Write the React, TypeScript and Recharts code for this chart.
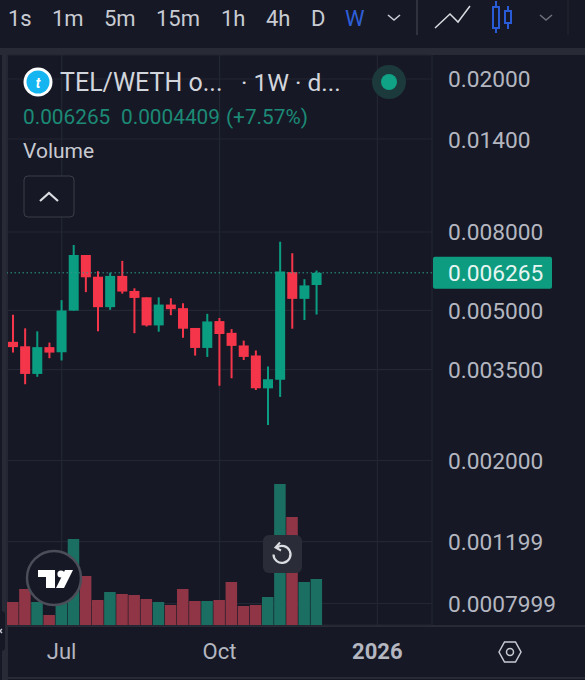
import { Bar, CartesianGrid, Cell, ComposedChart, ReferenceLine, XAxis, YAxis } from "recharts";

const weeks = [
  "2025-06-02", "2025-06-09", "2025-06-16", "2025-06-23", "2025-06-30", "2025-07-07", "2025-07-14",
  "2025-07-21", "2025-07-28", "2025-08-04", "2025-08-11", "2025-08-18", "2025-08-25", "2025-09-01",
  "2025-09-08", "2025-09-15", "2025-09-22", "2025-09-29", "2025-10-06", "2025-10-13", "2025-10-20",
  "2025-10-27", "2025-11-03", "2025-11-10", "2025-11-17", "2025-11-24", "2025-12-01", "2025-12-08",
  "2025-12-15", "2025-12-22", "2025-12-29", "2026-01-05", "2026-01-12", "2026-01-19", "2026-01-26",
];

const opens = [
  0.00414, 0.00403, 0.00341, 0.00401, 0.00389, 0.004995, 0.00697, 0.00612, 0.0051, 0.00615, 0.00562, 0.00541, 0.00457,
  0.00518, 0.00507, 0.0045, 0.00399, 0.00469, 0.00437, 0.00405, 0.00381, 0.00312, 0.00329, 0.00629, 0.00536, 0.005824,
];
const highs = [
  0.00487, 0.00449, 0.00441, 0.00412, 0.00532, 0.0074, 0.00697, 0.00632, 0.00627, 0.00673, 0.00571, 0.00541, 0.00541,
  0.00538, 0.00522, 0.0045, 0.0049, 0.00478, 0.00447, 0.00417, 0.00393, 0.00357, 0.00754, 0.00704, 0.00603, 0.00635,
];
const lows = [
  0.00388, 0.0032, 0.00335, 0.00375, 0.0037, 0.004995, 0.00558, 0.00441, 0.00502, 0.00553, 0.00436, 0.00454, 0.0044,
  0.00486, 0.00424, 0.00381, 0.00378, 0.00317, 0.00332, 0.00371, 0.00309, 0.00249, 0.00296, 0.00448, 0.00472, 0.00488,
];
const closes = [
  0.00401, 0.00341, 0.00401, 0.00388, 0.005, 0.00697, 0.0061, 0.0051, 0.00615, 0.0056, 0.00539, 0.00457, 0.00518,
  0.00504, 0.00448, 0.00399, 0.00468, 0.00434, 0.00404, 0.00378, 0.00312, 0.0033, 0.00631, 0.00536, 0.00581, 0.006265,
];
const volumes = [23, 36, 23, 10, 24, 86, 49, 25, 33, 31, 30, 26, 23, 20, 36, 24, 24, 25, 43, 19, 20, 28, 141, 108, 43, 46];

const lastPrice = 0.006265;
const priceTicks = [0.02, 0.014, 0.008, 0.005, 0.0035, 0.002, 0.001199, 0.0007999];
const priceLabels = ["0.02000", "0.01400", "0.008000", "0.005000", "0.003500", "0.002000", "0.001199", "0.0007999"];
const timeTicks = ["2025-06-30", "2025-09-29", "2025-12-29"];
const timeLabels = ["Jul", "Oct", "2026"];
const toolbarItems: Array<[string, number]> = [
  ["1s", 8], ["1m", 52], ["5m", 104], ["15m", 156], ["1h", 221], ["4h", 266], ["D", 311],
];

// the app's price axis is only roughly logarithmic, so it gets a log scale in pieces
const priceStops = [0.00069, 0.0007999, 0.001199, 0.002, 0.0035, 0.005, 0.008, 0.014, 0.02, 0.0231];
const stopFractions = [0, 0.0377, 0.1461, 0.2886, 0.4479, 0.5518, 0.6895, 0.8526, 0.9579, 1];

function pieceLogScale(dom: number[] = [0.00069, 0.0231], rng: number[] = [0, 1]) {
  const scale: any = (v: number) => {
    let i = 0;
    while (i < priceStops.length - 2 && v > priceStops[i + 1]) i++;
    const t = Math.log(v / priceStops[i]) / Math.log(priceStops[i + 1] / priceStops[i]);
    const frac = stopFractions[i] + t * (stopFractions[i + 1] - stopFractions[i]);
    return rng[0] + frac * (rng[1] - rng[0]);
  };
  scale.domain = (d?: number[]) => (d ? pieceLogScale(d, rng) : dom);
  scale.range = (r?: number[]) => (r ? pieceLogScale(dom, r) : rng);
  scale.copy = () => pieceLogScale(dom, rng);
  scale.ticks = () => priceTicks;
  return scale;
}

const UP = "#0b9d82";
const DOWN = "#f5364a";
const VOL_UP = "#1b6f62";
const VOL_DOWN = "#8f3546";
const BG = "#161925";
const BAND = "#282b35";
const GRID = "#232633";
const TEXT = "#b4b6c0";
const FONT = "Roboto, sans-serif";

const chartData = weeks.map((week, i) =>
  i < opens.length
    ? {
        week,
        volume: volumes[i],
        wick: [lows[i], highs[i]],
        body: [Math.min(opens[i], closes[i]), Math.max(opens[i], closes[i])],
        up: closes[i] >= opens[i],
      }
    : { week }
) as Array<{ week: string; volume?: number; wick?: number[]; body?: number[]; up?: boolean }>;

function PriceTick({ x, y, payload }: any) {
  return (
    <text x={x + 8} y={y + 1} dominantBaseline="central" fill={TEXT} fontSize={22.7} fontFamily={FONT}>
      {priceLabels[priceTicks.indexOf(payload.value)]}
    </text>
  );
}

function TimeTick({ x, payload }: any) {
  const label = timeLabels[timeTicks.indexOf(payload.value)];
  return (
    <text x={x} y={651} textAnchor="middle" dominantBaseline="central" fill={TEXT} fontSize={22} fontFamily={FONT} fontWeight={label === "2026" ? 700 : 400}>
      {label}
    </text>
  );
}

function PriceTag({ viewBox }: any) {
  const left = viewBox.x + viewBox.width + 1;
  return (
    <g>
      <rect x={left} y={viewBox.y - 16} width={119} height={32} rx={2} fill="#0e9c80" />
      <text x={left + 15} y={viewBox.y + 1} dominantBaseline="central" fill="#e6f6f2" fontSize={22.7} fontFamily={FONT}>
        {lastPrice.toFixed(6)}
      </text>
    </g>
  );
}

function Overlay() {
  return (
    <svg width={585} height={680} style={{ position: "absolute", left: 0, top: 0, pointerEvents: "none" }} fontFamily={FONT}>
      {/* toolbar */}
      {toolbarItems.map(([label, x]) => (
        <text key={label} x={x} y={18} dominantBaseline="central" fill="#c9cbd3" fontSize={22}>{label}</text>
      ))}
      <text x={345} y={18} dominantBaseline="central" fill="#2f5fd8" fontSize={22}>W</text>
      <path d="M388 15l6 5 6-5" fill="none" stroke="#c9cbd3" strokeWidth={1.6} />
      <line x1={417} y1={0} x2={417} y2={35} stroke="#3a3d47" strokeWidth={1.5} />
      <path d="M435 28l15-14 8 8 12-16" fill="none" stroke="#d8dae0" strokeWidth={1.5} />
      <g fill="none" stroke="#2a5bd7" strokeWidth={2}>
        <rect x={493} y={7} width={6} height={21} />
        <line x1={496} y1={1} x2={496} y2={7} />
        <line x1={496} y1={28} x2={496} y2={33} />
        <rect x={505} y={11} width={6} height={12} />
        <line x1={508} y1={6} x2={508} y2={11} />
        <line x1={508} y1={23} x2={508} y2={29} />
      </g>
      <path d="M540 15l6 5 6-5" fill="none" stroke="#6d7079" strokeWidth={1.6} />
      <line x1={568} y1={0} x2={568} y2={35} stroke="#20232e" strokeWidth={1.5} />

      {/* legend */}
      <circle cx={38} cy={82} r={14.5} fill="#ffffff" />
      <circle cx={38} cy={82} r={11.5} fill="#14b5f0" />
      <text x={38} y={83} textAnchor="middle" dominantBaseline="central" fill="#ffffff" fontSize={14} fontWeight={700} fontStyle="italic">t</text>
      <text x={60} y={82} dominantBaseline="central" fill="#d3d5dc" fontSize={25}>TEL/WETH o...</text>
      <text x={241} y={82} dominantBaseline="central" fill="#d3d5dc" fontSize={24.5}>· 1W · d...</text>
      <circle cx={389} cy={82} r={17} fill="#1c3a3c" />
      <circle cx={389} cy={82} r={8} fill="#10a386" />
      <text x={23} y={117} dominantBaseline="central" fill="#1c8a76" fontSize={20.8}>0.006265</text>
      <text x={121} y={117} dominantBaseline="central" fill="#1c8a76" fontSize={20.8}>0.0004409</text>
      <text x={226} y={117} dominantBaseline="central" fill="#1c8a76" fontSize={20.8}>(+7.57%)</text>
      <text x={23} y={151} dominantBaseline="central" fill="#c8cad2" fontSize={21}>Volume</text>
      <rect x={24} y={176} width={50} height={41} rx={4} fill={BG} stroke="#3b3e48" />
      <path d="M40 201l9-8 9 8" fill="none" stroke="#dcdde2" strokeWidth={2.2} />

      {/* watermark */}
      <circle cx={54} cy={578} r={27} fill={BG} stroke="#4b4e58" strokeWidth={2.5} />
      <path d="M38 570h17v18h-9v-11h-8z" fill="#ffffff" />
      <circle cx={61} cy={574} r={3.6} fill="#ffffff" />
      <path d="M65 570h8l-9 18h-8z" fill="#ffffff" />

      {/* reset button */}
      <rect x={263} y={535} width={39} height={38} rx={6} fill="#2a2d37" />
      <path d="M277 547.5a8.5 8.5 0 1 1-3.5 7" fill="none" stroke="#dcdde2" strokeWidth={2.2} />
      <path d="M280 542.5l-4.5 5 5.5 3" fill="none" stroke="#dcdde2" strokeWidth={2} />

      {/* settings hexagon */}
      <path d="M499 652l5.5-10h11l5.5 10-5.5 10h-11z" fill="none" stroke="#c9cbd3" strokeWidth={1.5} />
      <circle cx={510} cy={652} r={3.5} fill="none" stroke="#c9cbd3" strokeWidth={1.5} />

      {/* left edge tab */}
      <rect x={-4} y={611} width={9} height={40} rx={4} fill="#161925" />
      <path d="M-2 629l4 4m0-4l-4 4" stroke="#c9cbd3" strokeWidth={1.4} />
    </svg>
  );
}

export default function App() {
  return (
    <div style={{ position: "absolute", left: 0, top: 0, width: 585, height: 680, background: BG, overflow: "hidden" }}>
      <div style={{ position: "absolute", left: 0, top: 48, width: 585, height: 7, background: BAND }} />
      <div style={{ position: "absolute", left: 2, top: 48, width: 6, height: 632, background: BAND }} />
      <div style={{ position: "absolute", left: 8, top: 625, width: 577, height: 1.5, background: BAND }} />
      <div style={{ position: "absolute", left: 8, top: 677, width: 577, height: 1.5, background: BAND }} />
      <ComposedChart
        width={585}
        height={680}
        data={chartData}
        margin={{ top: 55, right: 0, bottom: 0, left: 7 }}
        style={{ position: "absolute", left: 0, top: 0 }}
      >
        <CartesianGrid xAxisId="time" yAxisId="price" stroke={GRID} strokeWidth={1.2} />
        <XAxis
          xAxisId="time"
          dataKey="week"
          ticks={timeTicks}
          interval={0}
          height={55}
          axisLine={false}
          tickLine={false}
          tick={<TimeTick />}
        />
        <XAxis xAxisId="wick" dataKey="week" hide />
        <XAxis xAxisId="body" dataKey="week" hide />
        <YAxis
          yAxisId="price"
          orientation="right"
          width={153}
          scale={pieceLogScale() as any}
          domain={[0.00069, 0.0231]}
          allowDataOverflow
          ticks={priceTicks}
          interval={0}
          axisLine={false}
          tickLine={false}
          tick={<PriceTick />}
        />
        <YAxis yAxisId="volume" hide domain={[0, 570]} />
        <Bar xAxisId="time" yAxisId="volume" dataKey="volume" barSize={11.5} isAnimationActive={false}>
          {chartData.map((d) => (
            <Cell key={d.week} fill={d.up ? VOL_UP : VOL_DOWN} />
          ))}
        </Bar>
        <ReferenceLine
          xAxisId="time"
          yAxisId="price"
          y={lastPrice}
          stroke="#2d9c89"
          strokeDasharray="1.5 2.5"
          label={<PriceTag />}
        />
        <Bar xAxisId="wick" yAxisId="price" dataKey="wick" barSize={2} isAnimationActive={false}>
          {chartData.map((d) => (
            <Cell key={d.week} fill={d.up ? UP : DOWN} />
          ))}
        </Bar>
        <Bar xAxisId="body" yAxisId="price" dataKey="body" barSize={10} isAnimationActive={false}>
          {chartData.map((d) => (
            <Cell key={d.week} fill={d.up ? UP : DOWN} />
          ))}
        </Bar>
      </ComposedChart>
      <Overlay />
    </div>
  );
}
